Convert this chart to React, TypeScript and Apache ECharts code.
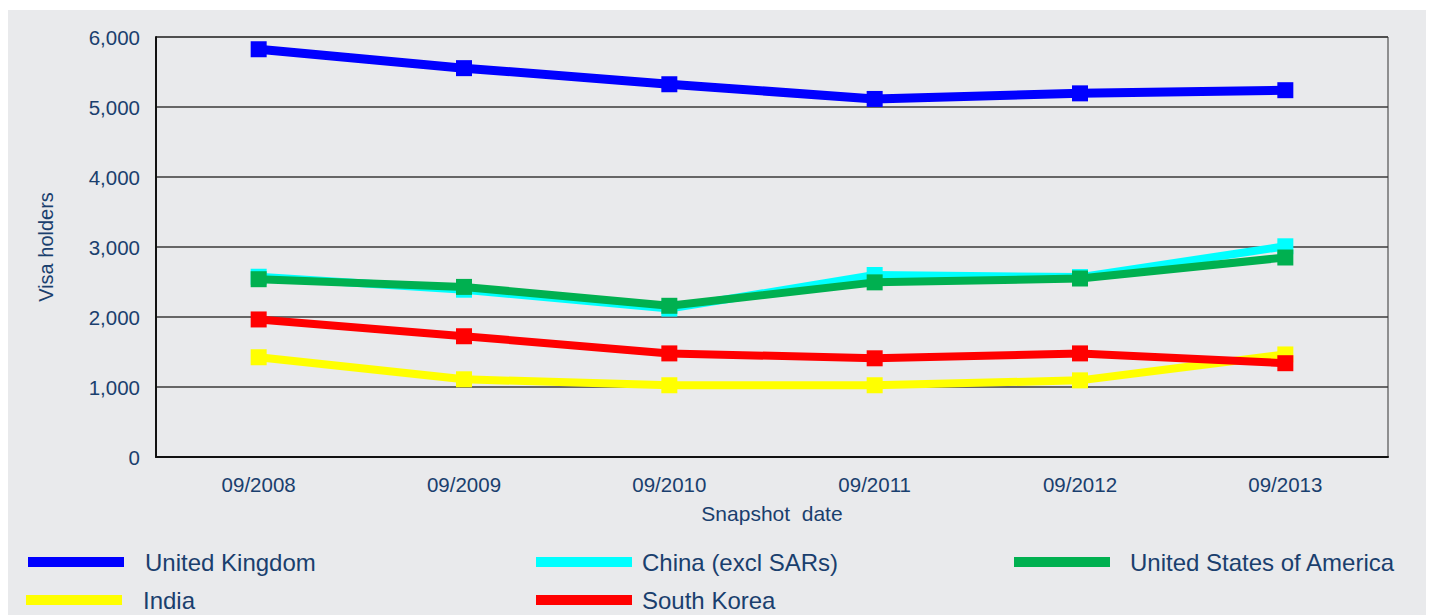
import React, { useEffect, useRef } from "react";
import * as echarts from "echarts";

const categories = ["09/2008", "09/2009", "09/2010", "09/2011", "09/2012", "09/2013"];
const seriesNames = ["United Kingdom", "China (excl SARs)", "United States of America", "India", "South Korea"];
const unitedKingdom = [5825, 5555, 5325, 5115, 5195, 5240];
const china = [2575, 2390, 2120, 2600, 2570, 3010];
const usa = [2540, 2430, 2160, 2495, 2550, 2850];
const india = [1425, 1110, 1025, 1025, 1095, 1465];
const southKorea = [1965, 1725, 1480, 1410, 1480, 1340];
const yTicks = [0, 1000, 2000, 3000, 4000, 5000, 6000];

const colors = ["#0000ff", "#00ffff", "#00b050", "#ffff00", "#ff0000"];
const values = [unitedKingdom, china, usa, india, southKorea];
const textColor = "#1a3f6e";
const font = "Liberation Sans, Arial, sans-serif";

export default function App() {
  const ref = useRef<HTMLDivElement>(null);
  useEffect(() => {
    if (!ref.current) return;
    const chart = echarts.init(ref.current, undefined, { renderer: "svg" });
    const legendPos = [
      { left: 15, top: 535, gap: 16 },
      { left: 523, top: 535, gap: 5 },
      { left: 1001, top: 535, gap: 15 },
      { left: 13, top: 573, gap: 16 },
      { left: 523, top: 573, gap: 5 },
    ];
    chart.setOption({
      animation: false,
      backgroundColor: "#e9eaec",
      textStyle: { fontFamily: font },
      grid: {
        left: 148,
        top: 27,
        right: 46,
        bottom: 158,
        show: true,
        borderColor: "#333",
        borderWidth: 1,
        backgroundColor: "transparent",
      },
      legend: seriesNames.map((n, i) => ({
        data: [n],
        left: legendPos[i].left,
        top: legendPos[i].top,
        icon: "rect",
        itemWidth: 96,
        itemHeight: 10,
        textStyle: { color: textColor, fontSize: 24, fontFamily: font, padding: [0, 0, 0, legendPos[i].gap] },
        selectedMode: false,
      })),
      xAxis: {
        type: "category",
        data: categories,
        boundaryGap: true,
        name: "Snapshot  date",
        nameLocation: "middle",
        nameGap: 46,
        nameTextStyle: { color: textColor, fontSize: 21, fontFamily: font },
        axisLine: { lineStyle: { color: "#111", width: 2 } },
        axisTick: { show: false },
        axisLabel: { color: textColor, fontSize: 20.5, margin: 17, fontFamily: font },
      },
      yAxis: {
        type: "value",
        min: 0,
        max: 6000,
        interval: 1000,
        name: "Visa holders",
        nameLocation: "middle",
        nameRotate: 90,
        nameGap: 100,
        nameTextStyle: { color: textColor, fontSize: 20, fontFamily: font },
        axisLine: { show: true, lineStyle: { color: "#111", width: 2 } },
        axisTick: { show: false },
        axisLabel: {
          color: textColor,
          fontSize: 20.5,
          margin: 16,
          fontFamily: font,
          formatter: (v: number) => (yTicks.includes(v) ? v.toLocaleString("en-US") : ""),
        },
        splitLine: { lineStyle: { color: "#3a3a3a", width: 1.5 } },
      },
      series: seriesNames.map((n, i) => ({
        name: n,
        type: "line",
        data: values[i],
        color: colors[i],
        symbol: "rect",
        symbolSize: 16,
        lineStyle: { width: i === 0 ? 9 : 8, color: colors[i] },
        itemStyle: { color: colors[i] },
        z: 2 + i,
      })),
    });
    return () => chart.dispose();
  }, []);
  return (
    <div
      ref={ref}
      style={{ width: 1426, height: 605, marginTop: 2 }}
    />
  );
}
